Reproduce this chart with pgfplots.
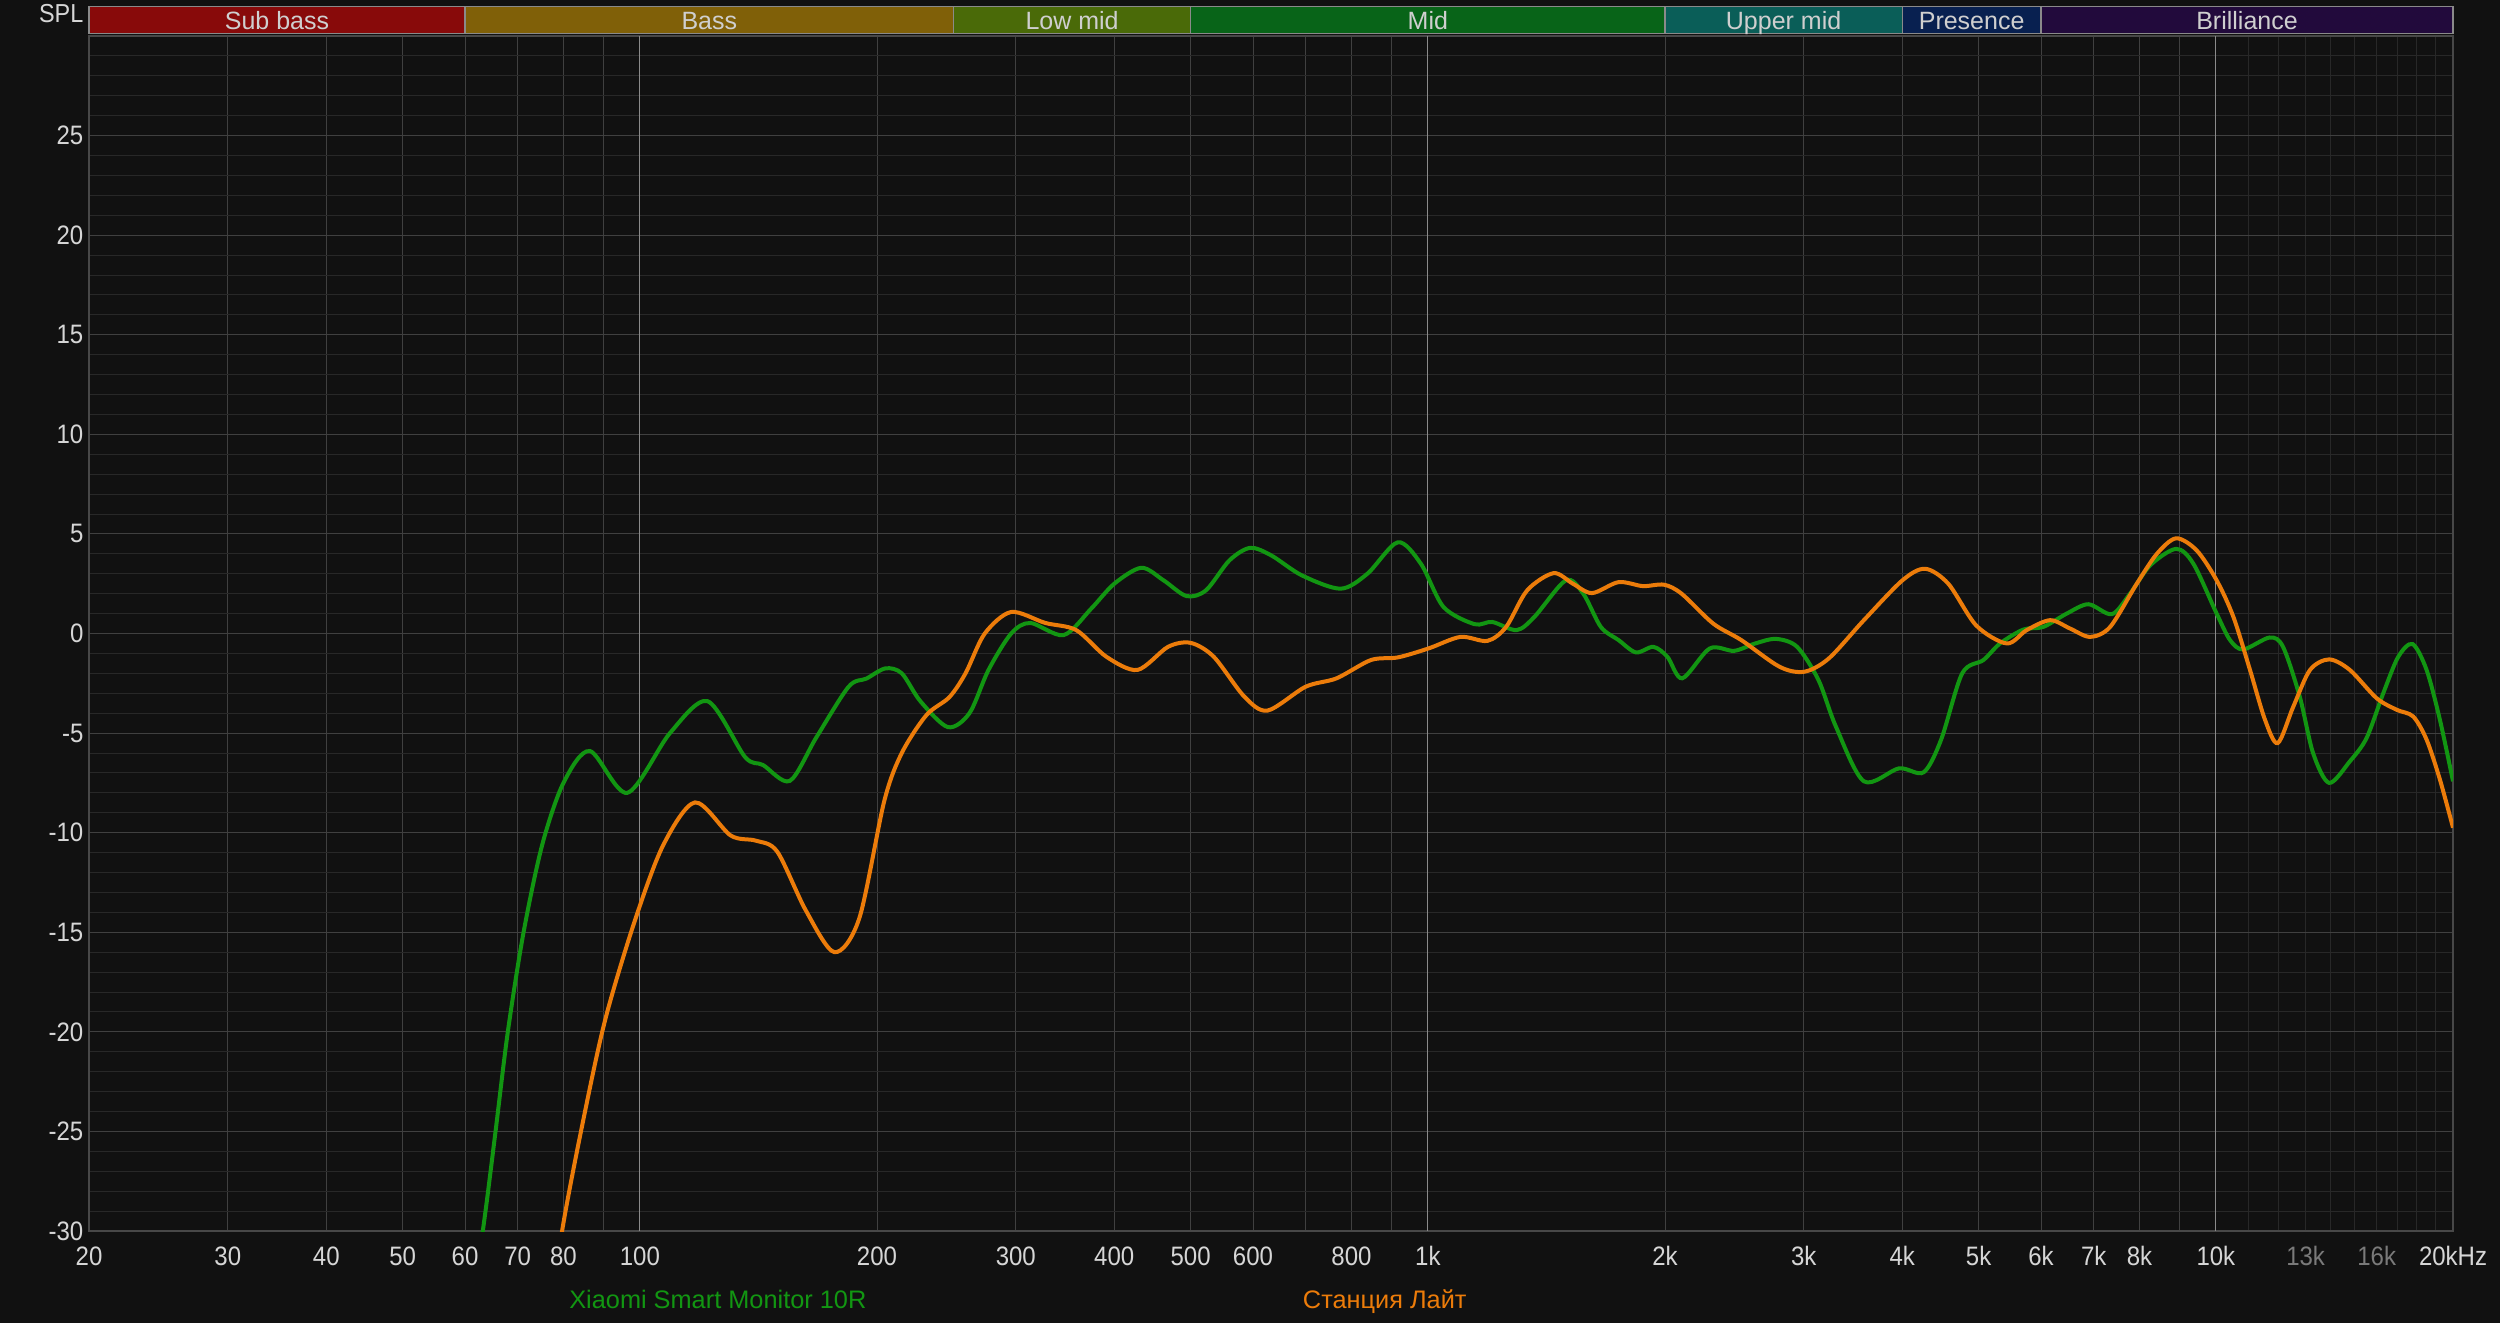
\documentclass[border=0pt]{standalone}
\usepackage{pgfplots}
\pgfplotsset{compat=1.18}
\usepackage{fontspec}
\setmainfont{Liberation Sans}
\newfontfamily\tickfont{Liberation Sans}[FakeStretch=0.9]
\definecolor{bg}{HTML}{111111}
\definecolor{gridmaj}{HTML}{404040}
\definecolor{gridmin}{HTML}{282828}
\definecolor{decade}{HTML}{8A8A8A}
\definecolor{axisline}{HTML}{484848}
\definecolor{ticktext}{HTML}{D6D6D6}
\definecolor{graylab}{HTML}{7A7A7A}
\definecolor{bandtext}{HTML}{CFCFCF}
\definecolor{bandline}{HTML}{8A8A8A}
\definecolor{cSub}{HTML}{880A0A}
\definecolor{cBass}{HTML}{806008}
\definecolor{cLow}{HTML}{4A6A08}
\definecolor{cMid}{HTML}{086418}
\definecolor{cUpper}{HTML}{0A5E58}
\definecolor{cPres}{HTML}{082050}
\definecolor{cBrill}{HTML}{220A3C}
\definecolor{cgreen}{RGB}{18,150,18}
\definecolor{corange}{RGB}{236,124,10}
\newcommand{\band}[5]{%
  \filldraw[fill=#3, draw=bandline, line width=0.35pt] (axis cs:#1,30.14) rectangle (axis cs:#2,31.5);
  \node[anchor=base, inner sep=0pt, text=bandtext, font=\fontsize{7.5}{8}\selectfont] at (axis cs:#4,30.33) {#5};}
\begin{document}
\begin{tikzpicture}
\path[use as bounding box, fill=bg] (0,0) rectangle (750pt,396.9pt);
\begin{axis}[
  at={(26.7pt,27.6pt)}, anchor=south west,
  width=709.2pt, height=358.5pt, scale only axis,
  xmode=log, log basis x=10,
  xmin=20, xmax=20000, ymin=-30, ymax=30,
  xtick={20,30,40,50,60,70,80,90,100,200,300,400,500,600,700,800,900,1000,2000,3000,4000,5000,6000,7000,8000,9000,10000,20000},
  xticklabels={20,30,40,50,60,70,80,,100,200,300,400,500,600,,800,,1k,2k,3k,4k,5k,6k,7k,8k,,10k,20kHz},
  extra x ticks={13000,16000},
  extra x tick labels={\textcolor{graylab}{13k},\textcolor{graylab}{16k}},
  extra x tick style={grid=none},
  minor xtick={11000,12000,13000,14000,15000,16000,17000,18000,19000},
  ytick={-30,-25,-20,-15,-10,-5,0,5,10,15,20,25},
  yticklabels={-30,-25,-20,-15,-10,-5,0,5,10,15,20,25},
  minor ytick={-29,-28,-27,-26,-24,-23,-22,-21,-19,-18,-17,-16,-14,-13,-12,-11,-9,-8,-7,-6,-4,-3,-2,-1,1,2,3,4,6,7,8,9,11,12,13,14,16,17,18,19,21,22,23,24,26,27,28,29},
  xmajorgrids, xminorgrids, ymajorgrids, yminorgrids,
  major x grid style={color=gridmaj, line width=0.3pt},
  minor x grid style={color=gridmin, line width=0.3pt},
  major y grid style={color=gridmaj, line width=0.3pt},
  minor y grid style={color=gridmin, line width=0.3pt},
  major tick length=0pt, minor tick length=0pt,
  axis line style={draw=axisline, line width=0.6pt},
  xticklabel style={anchor=base, yshift=-10.4pt, inner sep=0pt, text=ticktext, font=\tickfont\fontsize{8}{9}\selectfont},
  yticklabel style={anchor=east, xshift=-1.5pt, inner sep=0pt, text=ticktext, font=\tickfont\fontsize{8}{9}\selectfont},
  after end axis/.code={
    \band{20}{60}{cSub}{34.64}{Sub bass}
    \band{60}{250}{cBass}{122.5}{Bass}
    \band{250}{500}{cLow}{353.6}{Low mid}
    \band{500}{2000}{cMid}{1000}{Mid}
    \band{2000}{4000}{cUpper}{2828}{Upper mid}
    \band{4000}{6000}{cPres}{4899}{Presence}
    \band{6000}{20000}{cBrill}{10954}{Brilliance}
    \node[anchor=base east, inner sep=0pt, text=ticktext, font=\tickfont\fontsize{7.8}{9}\selectfont, xshift=-1.5pt, yshift=4.1pt] at (axis cs:20,30) {SPL};
    \node[anchor=base, inner sep=0pt, text=cgreen, font=\fontsize{7.6}{9}\selectfont, yshift=-23.25pt] at (axis cs:125.6,-30) {Xiaomi Smart Monitor 10R};
    \node[anchor=base, inner sep=0pt, text=corange, font=\fontsize{7.6}{9}\selectfont, yshift=-23.25pt] at (axis cs:881.8,-30) {Станция Лайт};
  },
]
\draw[color=decade, line width=0.35pt] (axis cs:100,-30) -- (axis cs:100,30);
\draw[color=decade, line width=0.35pt] (axis cs:1000,-30) -- (axis cs:1000,30);
\draw[color=decade, line width=0.35pt] (axis cs:10000,-30) -- (axis cs:10000,30);

% Xiaomi Smart Monitor 10R
\addplot[color=cgreen, line width=1.2pt, smooth] coordinates {
(59,-38) (63.2,-30) (65.6,-25) (68,-20) (71.2,-15) (75.2,-10.6) (80,-7.5)
(86.4,-5.9) (96.4,-8.0) (109.2,-5.0) (121.9,-3.4) (136.0,-6.2) (143.3,-6.6) (155.0,-7.4)
(167.6,-5.2) (184.1,-2.67) (194.0,-2.26) (205,-1.75) (215,-2.0) (227,-3.4) (246,-4.7)
(262,-4.0) (277,-1.83) (296,0) (313,0.53) (345,-0.08) (374,1.25) (400,2.5) (433,3.3)
(462,2.67) (494,1.88) (523,2.17) (560,3.67) (595,4.3) (633,3.92) (692,2.92) (775,2.25)
(838,3.0) (916,4.58) (980,3.5) (1047,1.33) (1146,0.47) (1207,0.58) (1296,0.17) (1365,0.83)
(1497,2.67) (1575,2.0) (1658,0.33) (1746,-0.33) (1837,-0.95) (1933,-0.67) (2014,-1.17)
(2103,-2.25) (2279,-0.75) (2447,-0.87) (2603,-0.5) (2767,-0.27) (2942,-0.67) (3131,-2.33)
(3295,-4.67) (3576,-7.42) (3963,-6.77) (4257,-6.97) (4481,-5.33) (4766,-2.0) (5071,-1.33)
(5323,-0.5) (5700,0.2) (6039,0.33) (6468,1.0) (6891,1.47) (7380,0.97) (7784,2.0) (8253,3.42)
(8905,4.25) (9366,3.5) (10024,1.0) (10424,-0.33) (10836,-0.8) (11706,-0.2) (12170,-0.67)
(12779,-3.17) (13286,-6.0) (13923,-7.5) (14794,-6.42) (15534,-5.25) (16311,-3.0) (17041,-1.17)
(17772,-0.53) (18514,-1.83) (19249,-4.33) (20000,-7.42)
};
% Stantsiya Lait
\addplot[color=corange, line width=1.2pt, smooth] coordinates {
(76,-36) (79.7,-30) (85,-24.2) (90.5,-19.3) (98.4,-14.5) (107,-10.65) (117.5,-8.48)
(130.4,-10.14) (140.3,-10.4) (149.4,-10.95) (162.4,-13.9) (176.6,-16.0) (189.9,-14.3)
(204.3,-8.4) (215,-6.0) (231,-4.1) (247,-3.2) (259,-2.0) (274,0) (296,1.08) (327,0.53)
(358,0.17) (391,-1.17) (428,-1.83) (468,-0.67) (500,-0.47) (535,-1.17) (585,-3.17)
(626,-3.87) (700,-2.67) (766,-2.25) (847,-1.33) (916,-1.2) (1002,-0.75) (1100,-0.17)
(1190,-0.37) (1257,0.33) (1337,2.17) (1444,3.03) (1528,2.5) (1616,2.03) (1746,2.58)
(1875,2.38) (1994,2.45) (2099,2.0) (2302,0.5) (2499,-0.33) (2795,-1.67) (3004,-1.92)
(3228,-1.25) (3576,0.67) (4002,2.67) (4277,3.25) (4576,2.5) (4966,0.4) (5429,-0.5)
(5754,0.17) (6163,0.67) (6532,0.25) (6925,-0.17) (7343,0.33) (7938,2.5) (8417,4.0)
(8905,4.78) (9458,4.17) (10024,2.67) (10528,0.83) (11050,-1.83) (11545,-4.33) (11983,-5.5)
(12541,-3.67) (13168,-1.83) (13923,-1.3) (14794,-1.83) (16000,-3.25) (16965,-3.83)
(17806,-4.17) (18514,-5.33) (19249,-7.33) (20000,-9.75)
};
\end{axis}
\end{tikzpicture}
\end{document}
